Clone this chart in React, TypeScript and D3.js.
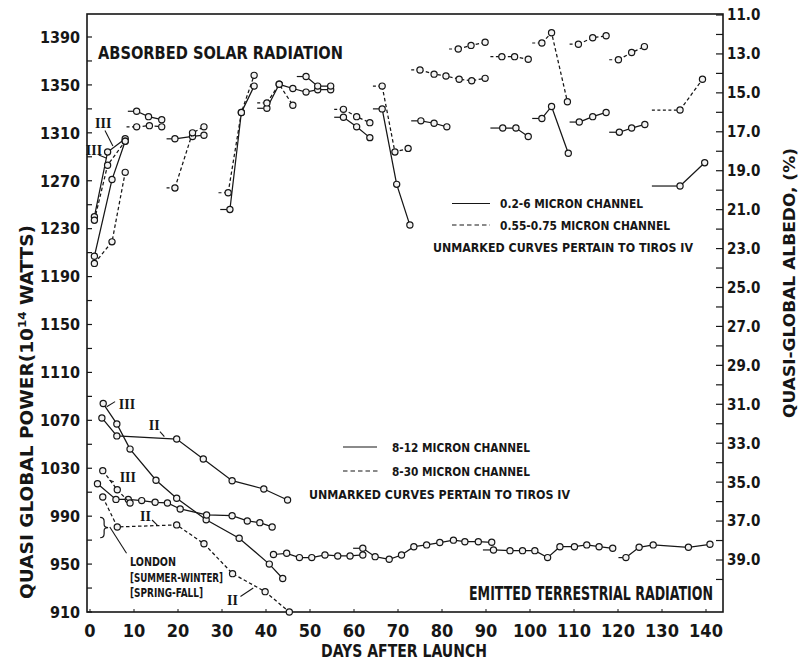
import React from 'react';
import * as d3 from 'd3';

// ---------- axis ticks ----------
const dayTicks = [0, 10, 20, 30, 40, 50, 60, 70, 80, 90, 100, 110, 120, 130, 140];
const powerTicks = [910, 950, 990, 1030, 1070, 1110, 1150, 1190, 1230, 1270, 1310, 1350, 1390];
const powerMinor = [910, 930, 950, 970, 990, 1010, 1030, 1050, 1070, 1090, 1110, 1130, 1150, 1170, 1190, 1210, 1230, 1250, 1270, 1290, 1310, 1330, 1350, 1370, 1390];
const albedoTicks = [11, 13, 15, 17, 19, 21, 23, 25, 27, 29, 31, 33, 35, 37, 39];
const albedoMinor = [11, 12, 13, 14, 15, 16, 17, 18, 19, 20, 21, 22, 23, 24, 25, 26, 27, 28, 29, 30, 31, 32, 33, 34, 35, 36, 37, 38, 39, 40];

type Seg = { dash: boolean; lead?: number; pts: number[][] };

// ---------- absorbed solar radiation ----------
// Tiros II / III early curves
const solIIIsolid = [[1, 1240], [4, 1294], [8, 1305]];
const solIIIdashed = [[1, 1237], [4, 1283], [8, 1303]];
const solIIsolid = [[1, 1207], [5, 1271], [8, 1303]];
const solIIdashed = [[1, 1201], [5, 1219], [8, 1277]];

// Tiros IV passes (solid = 0.2-6 micron, dashed = 0.55-0.75 micron)
const absorbedSegments: Seg[] = [
  { dash: false, pts: solIIIsolid },
  { dash: true, pts: solIIIdashed },
  { dash: false, pts: solIIsolid },
  { dash: true, pts: solIIdashed },
  { dash: false, lead: 8.6, pts: [[10.6, 1328], [13.3, 1323.5], [16.3, 1321]] },
  { dash: true, lead: 8.3, pts: [[10.6, 1315], [13.5, 1316], [16.3, 1315]] },
  { dash: false, lead: 17.4, pts: [[19.3, 1305], [23.3, 1307], [25.9, 1308]] },
  { dash: true, lead: 17.4, pts: [[19.3, 1264], [23.3, 1310], [25.9, 1315]] },
  { dash: false, lead: 29.6, pts: [[31.8, 1246], [34.4, 1327], [37.3, 1349]] },
  { dash: true, lead: 29.2, pts: [[31.4, 1260], [34.4, 1327], [37.3, 1358]] },
  { dash: false, lead: 38, pts: [[40.2, 1330.5], [43, 1350.5], [46.1, 1347], [49.1, 1344], [51.75, 1346], [54.7, 1346]] },
  { dash: true, lead: 38, pts: [[40.2, 1335], [43, 1350.5], [46.1, 1333]] },
  { dash: false, lead: 47, pts: [[49.1, 1357], [51.75, 1349], [54.7, 1349]] },
  { dash: true, lead: 55.5, pts: [[57.6, 1329.6], [60.6, 1323.5], [63.6, 1318.5]] },
  { dash: false, lead: 55.5, pts: [[57.6, 1323], [60.6, 1315], [63.6, 1306]] },
  { dash: true, lead: 64.3, pts: [[66.4, 1349], [69.3, 1294], [72.3, 1297]] },
  { dash: false, lead: 64.3, pts: [[66.4, 1330], [69.7, 1267], [72.7, 1233]] },
  { dash: true, lead: 73, pts: [[75, 1362.5], [78.2, 1359], [80.9, 1357.5], [83.9, 1354.7], [86.75, 1353.5], [89.8, 1355.5]] },
  { dash: true, lead: 81.6, pts: [[83.7, 1380], [86.6, 1383], [89.8, 1385.6]] },
  { dash: false, lead: 73, pts: [[75.2, 1320], [78.2, 1318], [81.1, 1315]] },
  { dash: true, lead: 91, pts: [[93.6, 1373.6], [96.5, 1373.6], [99.6, 1371.4]] },
  { dash: false, lead: 91, pts: [[93.8, 1314], [96.8, 1314], [99.6, 1307]] },
  { dash: true, lead: 100.5, pts: [[102.7, 1385], [104.9, 1393.6], [108.5, 1336]] },
  { dash: false, lead: 100.5, pts: [[102.7, 1322], [104.9, 1332], [108.7, 1293]] },
  { dash: true, lead: 109, pts: [[111, 1384], [114.25, 1389.4], [117.3, 1391]] },
  { dash: false, lead: 109, pts: [[111.2, 1319], [114.25, 1323.5], [117.3, 1327]] },
  { dash: true, lead: 118, pts: [[120.1, 1371], [123.1, 1377], [126, 1382]] },
  { dash: false, lead: 118, pts: [[120.3, 1310.5], [123.1, 1314], [126.1, 1317]] },
  { dash: true, lead: 127.7, pts: [[134.1, 1329], [139.2, 1354.7]] },
  { dash: false, lead: 127.7, pts: [[134.1, 1265.6], [139.7, 1285]] },
];

// ---------- emitted terrestrial radiation ----------
const emIIIsolid = [[3, 1084], [6.1, 1067], [9.1, 1046], [15, 1020], [19.7, 1005], [26.4, 987], [33.9, 971.6], [40.75, 950], [43.8, 938]];
const emIIsolid = [[2.7, 1072], [6.1, 1057], [19.7, 1054.4], [25.75, 1037.7], [32.3, 1019.6], [39.5, 1012.7], [44.9, 1003.5]];
const emSolidLow = [[1.7, 1017], [5.9, 1004], [8.7, 1004], [11.75, 1003], [14.8, 1001.6], [17.6, 1001], [20.5, 996], [26.5, 991], [32.3, 990.4], [35.75, 986], [38.6, 984.6], [41.4, 981]];
const emIIIdashed = [[2.9, 1028], [6.2, 1012], [9.1, 1001]];
const emIIdashed = [[2.9, 1006], [6.2, 981], [19.7, 982.7], [25.9, 967], [32.4, 942], [39.8, 927], [45.3, 910]];
const tirosIV1 = [[41.7, 958], [44.7, 959], [47.6, 955.4], [50.4, 955.4], [53.4, 957.6], [56.3, 956.8], [59.1, 956.8], [62, 957.6]];
const tirosIV2 = [[62, 963.2], [64.8, 956.2], [68, 954], [70.8, 957.6], [73.6, 964.5], [76.5, 966], [79.5, 968], [82.6, 970], [85.2, 968.7], [88.25, 968.7], [91.3, 968.2]];
const tirosIV3 = [[91.7, 961.8], [95.45, 961.2], [98.3, 961.2], [101.1, 961.2], [104, 955.4], [106.8, 964.5], [110.1, 964.5], [112.9, 966], [115.7, 964.5], [118.8, 963.2]];
const tirosIV4 = [[121.8, 955.4], [124.8, 964], [128, 966], [136, 964], [140.9, 966.5]];

const emittedSegments: Seg[] = [
  { dash: false, pts: emIIIsolid },
  { dash: false, pts: emIIsolid },
  { dash: false, pts: emSolidLow },
  { dash: true, pts: emIIIdashed },
  { dash: true, pts: emIIdashed },
  { dash: false, pts: tirosIV1 },
  { dash: false, lead: 59.8, pts: tirosIV2 },
  { dash: false, lead: 89.3, pts: tirosIV3 },
  { dash: false, lead: 120.1, pts: tirosIV4 },
];

// ---------- satellite labels (II / III) ----------
const romanLabels = [
  { t: 'III', d: 3.0, v: 1318, from: [3.4, 1312], to: [5.2, 1299] },
  { t: 'III', d: 0.9, v: 1296, from: [2.0, 1291.5], to: [3.8, 1288.7] },
  { t: 'III', d: 8.4, v: 1084, from: [3.8, 1081.4], to: [5.7, 1085.6] },
  { t: 'II', d: 14.6, v: 1066, from: [15.9, 1060.5], to: [16.9, 1056.4] },
  { t: 'III', d: 8.6, v: 1022.7, from: [4.4, 1020], to: [5.4, 1018.8] },
  { t: 'II', d: 12.6, v: 990, from: [14.1, 986.8], to: [15.3, 982.6] },
  { t: 'II', d: 32.4, v: 920, from: [34.2, 923], to: [37.1, 930] },
];
const londonRange = [972, 989];
const londonLeader = [[4.5, 981], [8.3, 959]];
const londonText = [
  { t: 'LONDON', v: 952, w: 46 },
  { t: '[SUMMER-WINTER]', v: 938.5, w: 93 },
  { t: '[SPRING-FALL]', v: 926, w: 73 },
];
const londonDay = 9.1;

const FONT = '"DejaVu Sans Condensed","Liberation Sans Narrow","DejaVu Sans",sans-serif';
const INK = '#161616';

export default function App() {
  const W = 806, H = 665;
  const L = 87, R = 723, T = 14, B = 612;
  const x = d3.scaleLinear().domain([0, 140]).range([90, 706]);
  const y = d3.scaleLinear().domain([910, 1390]).range([612, 37]);
  const ya = d3.scaleLinear().domain([11, 39]).range([15, 560]);
  const line = d3.line<number[]>().x((d) => x(d[0])).y((d) => y(d[1]));

  const drawSegs = (segs: Seg[], key: string) =>
    segs.map((s, i) => (
      <g key={key + i}>
        {s.lead !== undefined && (
          <line x1={x(s.lead)} x2={x(s.pts[0][0])} y1={y(s.pts[0][1])} y2={y(s.pts[0][1])}
            stroke={INK} strokeWidth={1.2} strokeDasharray={s.dash ? '3,2.5' : undefined} />
        )}
        <path d={line(s.pts) || ''} fill="none" stroke={INK} strokeWidth={1.25}
          strokeDasharray={s.dash ? '3.5,2.5' : undefined} />
        {s.pts.map((p, j) => (
          <circle key={j} cx={x(p[0])} cy={y(p[1])} r={3.1} fill="#f2f2f2" stroke={INK} strokeWidth={1.2} />
        ))}
      </g>
    ));

  const bx = x(2.3), by0 = y(londonRange[1]), by1 = y(londonRange[0]), bm = (by0 + by1) / 2;
  const brace = `M${bx},${by0} Q${bx + 4},${by0} ${bx + 4},${by0 + 4} L${bx + 4},${bm - 3} Q${bx + 4},${bm} ${bx + 8},${bm} Q${bx + 4},${bm} ${bx + 4},${bm + 3} L${bx + 4},${by1 - 4} Q${bx + 4},${by1} ${bx},${by1}`;

  return (
    <svg width={W} height={H} style={{ position: 'absolute', left: 0, top: 0, background: '#fff' }}
      fontFamily={FONT} fill={INK}>
      <rect x={0} y={0} width={W} height={H} fill="#fff" />
      {/* frame */}
      <rect x={L} y={T} width={R - L} height={B - T} fill="none" stroke={INK} strokeWidth={1.6} />

      {/* left ticks */}
      {powerMinor.map((v) => (
        <line key={'pm' + v} x1={L} x2={L + 5} y1={y(v)} y2={y(v)} stroke={INK} strokeWidth={1.2} />
      ))}
      {powerTicks.map((v) => (
        <text key={'pt' + v} x={80} y={y(v)} dy="0.36em" textAnchor="end" fontSize={16} fontWeight="bold">{v}</text>
      ))}
      {/* right ticks */}
      {albedoMinor.map((v) => (
        <line key={'am' + v} x1={R - 7} x2={R} y1={ya(v)} y2={ya(v)} stroke={INK} strokeWidth={1.2} />
      ))}
      {albedoTicks.map((v) => (
        <text key={'at' + v} x={727} y={ya(v)} dy="0.36em" textAnchor="start" fontSize={15} fontWeight="bold">{v.toFixed(1)}</text>
      ))}
      {/* bottom ticks */}
      {dayTicks.map((d) => (
        <g key={'d' + d}>
          <line x1={x(d)} x2={x(d)} y1={B} y2={B - 3} stroke={INK} strokeWidth={1} />
          <text x={x(d)} y={637} textAnchor="middle" fontSize={18} fontWeight="bold">{d}</text>
        </g>
      ))}

      {/* axis titles */}
      <text x={404} y={657} textAnchor="middle" fontSize={17} fontWeight="bold" textLength={166} lengthAdjust="spacingAndGlyphs">DAYS AFTER LAUNCH</text>
      <text transform="translate(33,412) rotate(-90)" textAnchor="middle" fontSize={17} fontWeight="bold"
        textLength={374} lengthAdjust="spacingAndGlyphs">
        QUASI GLOBAL POWER(10<tspan fontSize={11} dy={-7}>14</tspan><tspan dy={7}> WATTS)</tspan>
      </text>
      <text transform="translate(795,283) rotate(-90)" textAnchor="middle" fontSize={15} fontWeight="bold"
        textLength={270} lengthAdjust="spacingAndGlyphs">QUASI-GLOBAL  ALBEDO, (%)</text>

      {/* panel titles */}
      <text x={98} y={58.5} fontSize={18} fontWeight="bold" textLength={245} lengthAdjust="spacingAndGlyphs">ABSORBED SOLAR RADIATION</text>
      <text x={469} y={600} fontSize={19} fontWeight="bold" textLength={244} lengthAdjust="spacingAndGlyphs">EMITTED TERRESTRIAL RADIATION</text>

      {/* legends */}
      <line x1={452} x2={490} y1={203.5} y2={203.5} stroke={INK} strokeWidth={1.2} />
      <text x={500} y={203.5} dy="0.36em" fontSize={13} fontWeight="bold" textLength={143} lengthAdjust="spacingAndGlyphs">0.2-6 MICRON CHANNEL</text>
      <line x1={452} x2={490} y1={225} y2={225} stroke={INK} strokeWidth={1.2} strokeDasharray="4.5,3" />
      <text x={500} y={225} dy="0.36em" fontSize={13} fontWeight="bold" textLength={170} lengthAdjust="spacingAndGlyphs">0.55-0.75 MICRON CHANNEL</text>
      <text x={433} y={247.5} dy="0.36em" fontSize={13} fontWeight="bold" textLength={260} lengthAdjust="spacingAndGlyphs">UNMARKED CURVES PERTAIN TO TIROS IV</text>

      <line x1={343} x2={377} y1={447} y2={447} stroke={INK} strokeWidth={1.2} />
      <text x={392} y={447} dy="0.36em" fontSize={13} fontWeight="bold" textLength={138} lengthAdjust="spacingAndGlyphs">8-12 MICRON CHANNEL</text>
      <line x1={343} x2={378} y1={471} y2={471} stroke={INK} strokeWidth={1.2} strokeDasharray="4.5,3" />
      <text x={392} y={471} dy="0.36em" fontSize={13} fontWeight="bold" textLength={138} lengthAdjust="spacingAndGlyphs">8-30 MICRON CHANNEL</text>
      <text x={309} y={494} dy="0.36em" fontSize={13} fontWeight="bold" textLength={261} lengthAdjust="spacingAndGlyphs">UNMARKED CURVES PERTAIN TO TIROS IV</text>

      {/* data */}
      {drawSegs(absorbedSegments, 'a')}
      {drawSegs(emittedSegments, 'e')}

      {/* roman labels */}
      {romanLabels.map((r, i) => (
        <g key={'r' + i}>
          <line x1={x(r.from[0])} y1={y(r.from[1])} x2={x(r.to[0])} y2={y(r.to[1])} stroke={INK} strokeWidth={1.1} />
          <text x={x(r.d)} y={y(r.v)} dy="0.36em" textAnchor="middle" fontSize={14} fontWeight="bold"
            fontFamily='"Liberation Serif","DejaVu Serif",serif'>{r.t}</text>
        </g>
      ))}

      {/* London */}
      <path d={brace} fill="none" stroke={INK} strokeWidth={1.2} />
      <line x1={x(londonLeader[0][0])} y1={y(londonLeader[0][1])} x2={x(londonLeader[1][0])} y2={y(londonLeader[1][1])} stroke={INK} strokeWidth={1.1} />
      {londonText.map((t) => (
        <text key={t.t} x={x(londonDay)} y={y(t.v)} dy="0.36em" fontSize={12} fontWeight="bold" textLength={t.w} lengthAdjust="spacingAndGlyphs">{t.t}</text>
      ))}
    </svg>
  );
}
